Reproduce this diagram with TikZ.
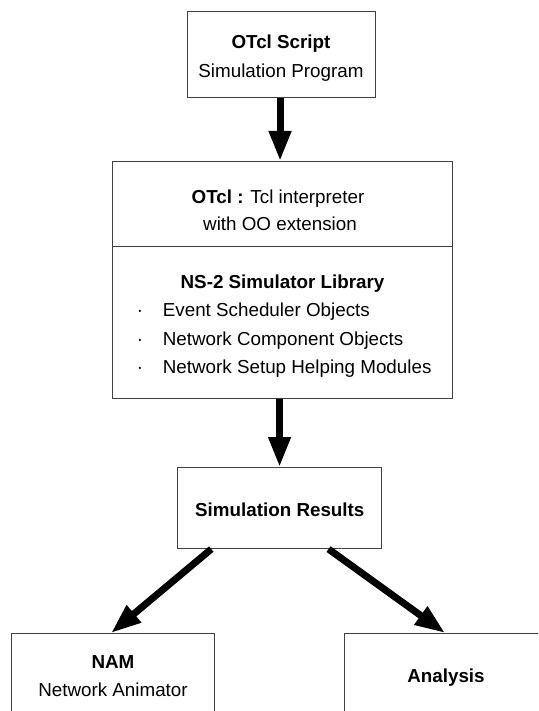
\documentclass[tikz,border=0pt]{standalone}
\usepackage{fontspec}
\setmainfont{Liberation Sans}
\usetikzlibrary{arrows.meta,calc}
\begin{document}
\begin{tikzpicture}[x=1pt,y=-1pt,
  box/.style={draw=black!75, line width=1.1pt, fill=white, inner sep=0pt, anchor=north west},
  lbl/.style={anchor=base, inner sep=0pt, font=\fontsize{18.8pt}{22pt}\selectfont},
  lblw/.style={lbl, anchor=base west},
  big/.style={line width=7pt, -{Triangle[width=21pt,length=30pt]}}]
\useasboundingbox (0,0) rectangle (538,711);
\clip (0,0) rectangle (538,711);
% boxes
\node[box, minimum width=188pt, minimum height=86pt] (top) at (187,11) {};
\node[box, minimum width=340pt, minimum height=85pt] (mida) at (112,161) {};
\node[box, minimum width=340pt, minimum height=152pt] (midb) at (112,246) {};
\node[box, minimum width=204pt, minimum height=81pt] (sim) at (177,467) {};
\node[box, minimum width=203pt, minimum height=100pt] (nam) at (11,633) {};
\node[box, minimum width=203pt, minimum height=100pt] (ana) at (344,633) {};
% texts
\node[lbl] (t1) at (281,48.3) {\textbf{OTcl Script}};
\node[lbl] (t2) at (281,77.3) {Simulation Program};
\node[lbl] (m1) at (278,203.3) {\textbf{OTcl :} Tcl interpreter};
\node[lbl] (m2) at (280,230.7) {with OO extension};
\node[lbl] (n0) at (282.5,288.3) {\textbf{NS-2 Simulator Library}};
\node[lbl] (d1) at (140,316.8) {·};
\node[lbl] (d2) at (140,345.3) {·};
\node[lbl] (d3) at (140,373.8) {·};
\node[lblw] (b1) at (162.7,316.8) {Event Scheduler Objects};
\node[lblw] (b2) at (162.7,345.3) {Network Component Objects};
\node[lblw] (b3) at (162.7,373.8) {Network Setup Helping Modules};
\node[lbl] (s1) at (279.8,516) {\textbf{Simulation Results}};
\node[lbl] (na1) at (113,668.3) {\textbf{NAM}};
\node[lbl] (na2) at (113,696.7) {Network Animator};
\node[lbl] (an1) at (446,682.7) {\textbf{Analysis}};
% arrows
\draw[big] ([xshift=-1.5pt]top.south) -- ([xshift=-1.5pt]top.south |- mida.north);
\draw[big] (sim.north |- midb.south) -- (sim.north);
\draw[big] ([xshift=-68.3pt]sim.south) -- ([xshift=-2pt]nam.north);
\draw[big] ([xshift=49pt]sim.south) -- ([xshift=-1pt]ana.north);
\end{tikzpicture}
\end{document}
